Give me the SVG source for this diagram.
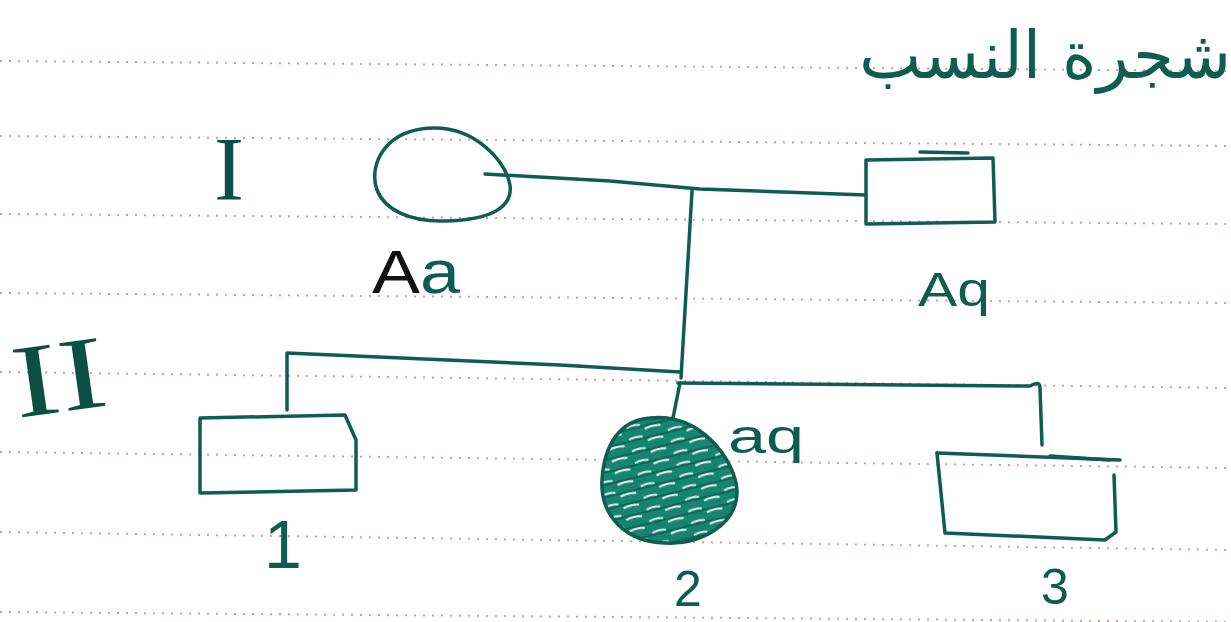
<svg xmlns="http://www.w3.org/2000/svg" width="1231" height="622" viewBox="0 0 1231 622">
<style>
.ink{fill:none;stroke:#0f5d51;stroke-width:3.5;stroke-linecap:round;stroke-linejoin:round}
.rule{fill:none;stroke:#d49a9a;stroke-width:2;stroke-dasharray:2 7}
.lbl{font-family:"Liberation Sans",Arial,sans-serif;fill:#0f5d51}
.rom{font-family:"Liberation Serif","Times New Roman",serif;fill:#0c4f45}
</style>
<defs>
<pattern id="hatch" width="40" height="12" patternUnits="userSpaceOnUse" patternTransform="rotate(-14)">
<rect width="40" height="12" fill="#178470"/>
<path d="M2 8 Q10 6 18 8" stroke="#eaf5f2" stroke-width="2.2" fill="none"/>
<path d="M24 3 Q31 1 38 3" stroke="#d5ece6" stroke-width="2" fill="none"/>
<path d="M0 5 L40 5" stroke="#0d5a4e" stroke-width="1.5"/>
</pattern>
</defs>
<rect width="1231" height="622" fill="#ffffff"/>
<g id="ruled-lines">
<path class="rule" d="M0 61 L1231 71"/>
<path class="rule" d="M0 136 L1231 146"/>
<path class="rule" d="M0 214 L1231 224"/>
<path class="rule" d="M0 293 L1231 303"/>
<path class="rule" d="M0 372 L1231 388"/>
<path class="rule" d="M0 452 L1231 468"/>
<path class="rule" d="M0 532 L1231 550"/>
<path class="rule" d="M0 612 L1231 622"/>
</g>
<g id="title">
<text x="1231" y="78" text-anchor="end" font-family="DejaVu Sans, sans-serif" font-size="66" fill="#0f5d51">شجرة النسب</text>
</g>
<g id="generation-I">
<text class="rom" x="229" y="200" text-anchor="middle" font-size="90">I</text>
</g>
<g id="generation-II">
<text class="rom" x="12" y="412" font-size="104" textLength="94" lengthAdjust="spacingAndGlyphs" transform="rotate(-8 58 378)">II</text>
</g>
<g id="connectors">
<path class="ink" d="M485 174 L610 181 L700 189 L866 195"/>
<path class="ink" d="M692 191 L681 378"/>
<path class="ink" d="M287 410 L287 353 L560 365 L680 372"/>
<path class="ink" d="M678 383 L1030 386 Q1040 380 1040 388 L1042 445"/>
<path class="ink" d="M680 383 L673 418"/>
</g>
<g id="I-1">
<path class="ink" d="M435 128 C475 128 505 160 510 185 C513 208 490 220 445 221 C410 222 385 210 377 190 C368 165 385 128 435 128 Z"/>
<text class="lbl" x="372" y="293" font-size="62" textLength="88" lengthAdjust="spacingAndGlyphs"><tspan fill="#111">A</tspan>a</text>
</g>
<g id="I-2">
<path class="ink" d="M866 160 L993 158 L995 222 L866 224 Z"/>
<path class="ink" d="M920 152 L968 153"/>
<text class="lbl" x="918" y="306" font-size="48" textLength="72" lengthAdjust="spacingAndGlyphs">Aq</text>
</g>
<g id="II-1">
<path class="ink" d="M200 418 L345 415 L356 440 L356 490 L200 493 Z"/>
<text class="lbl" x="283" y="568" text-anchor="middle" font-size="68">1</text>
</g>
<g id="II-2">
<path d="M650 418 C700 412 735 460 737 490 C738 525 700 545 665 543 C625 542 600 515 602 480 C604 445 620 420 650 418 Z" fill="url(#hatch)" stroke="#0f5d51" stroke-width="3.5"/>
<text class="lbl" x="728" y="453" font-size="48" textLength="76" lengthAdjust="spacingAndGlyphs">aq</text>
<text class="lbl" x="688" y="606" text-anchor="middle" font-size="50">2</text>
</g>
<g id="II-3">
<path class="ink" d="M937 453 L1120 460"/>
<path class="ink" d="M1050 456 L1110 460" stroke-width="5"/>
<path class="ink" d="M1114 475 L1116 532 L1105 540 L945 533 L937 453"/>
<text class="lbl" x="1055" y="604" text-anchor="middle" font-size="50">3</text>
</g>
</svg>
